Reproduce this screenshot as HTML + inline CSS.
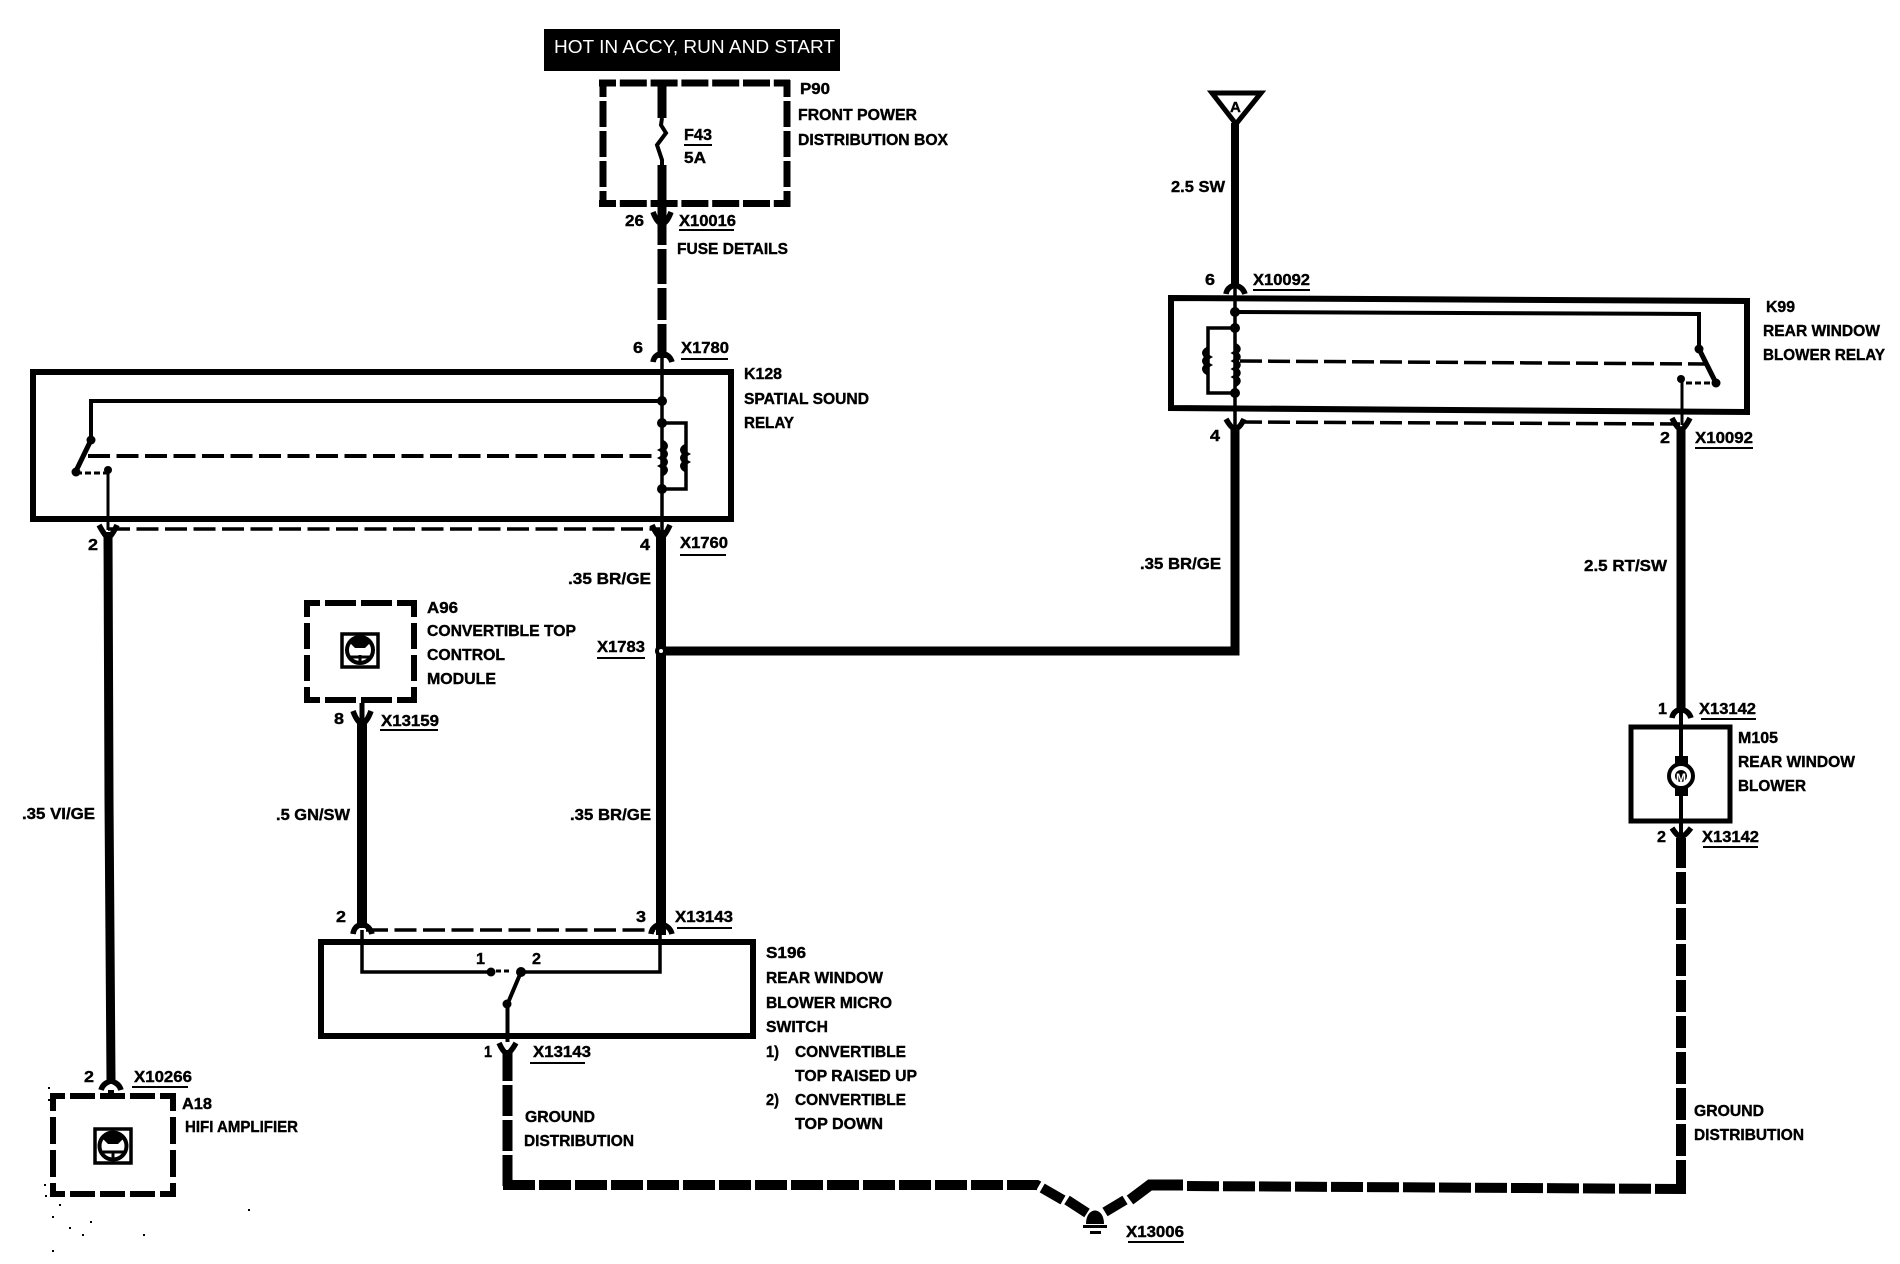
<!DOCTYPE html>
<html><head><meta charset="utf-8"><title>Wiring diagram</title>
<style>html,body{margin:0;padding:0;background:#fff}svg{display:block}
text{font-family:"Liberation Sans",sans-serif;font-weight:bold;font-size:16px;fill:#000;stroke:#000;stroke-width:.4}</style></head>
<body>
<svg xmlns="http://www.w3.org/2000/svg" width="1900" height="1264" viewBox="0 0 1900 1264">
<rect width="1900" height="1264" fill="#fff"/>
<g fill="none" stroke="#000" stroke-linejoin="miter">
<!-- P90 dashed box -->
<g stroke-width="7">
<path d="M599 83H790" stroke-dasharray="27 3.8" stroke-dashoffset="10"/>
<path d="M599 203.500H790" stroke-dasharray="27 3.8" stroke-dashoffset="10"/>
<path d="M603 80V207" stroke-dasharray="26 4" stroke-dashoffset="9"/>
<path d="M787 80V207" stroke-dasharray="26 4" stroke-dashoffset="9"/>
</g>
<!-- A96 dashed box -->
<g stroke-width="6">
<path d="M304 603H417" stroke-dasharray="31 5" stroke-dashoffset="15"/>
<path d="M304 700H417" stroke-dasharray="31 5" stroke-dashoffset="15"/>
<path d="M307 600V703" stroke-dasharray="26 6" stroke-dashoffset="9"/>
<path d="M414 600V703" stroke-dasharray="26 6" stroke-dashoffset="9"/>
</g>
<!-- A18 dashed box -->
<g stroke-width="6">
<path d="M51 1096H176" stroke-dasharray="25 5" stroke-dashoffset="11"/>
<path d="M51 1194H176" stroke-dasharray="25 5" stroke-dashoffset="11"/>
<path d="M53 1093V1197" stroke-dasharray="27 6" stroke-dashoffset="9"/>
<path d="M173 1093V1197" stroke-dasharray="27 6" stroke-dashoffset="9"/>
</g>
<!-- solid boxes -->
<rect x="33" y="372" width="698" height="147" stroke-width="6"/>
<path d="M1171 298L1747 301V412L1171 408Z" stroke-width="6"/>
<rect x="321" y="942" width="432" height="94" stroke-width="6"/>
<rect x="1631" y="727" width="99" height="94" stroke-width="5"/>

<!-- fuse wire -->
<path d="M662 80V118M662 165V213" stroke-width="9"/>
<path d="M662 118L661 125L666 133L657 145L662 160V166" stroke-width="4"/>
<path d="M662 213V245M662 249V284M662 288V320M662 324V358" stroke-width="9"/>
<!-- k128 internals -->
<path d="M662 358V530" stroke-width="3.500"/>
<path d="M662 401H91V440" stroke-width="4"/>
<path d="M91 440L76 471" stroke-width="5"/>
<path d="M108 470V530" stroke-width="3"/>
<path d="M76 473H107" stroke-width="3" stroke-dasharray="6 3"/>
<path d="M88 456H655" stroke-width="4" stroke-dasharray="22 6.500"/>
<path d="M108 529H660" stroke-width="3.500" stroke-dasharray="22 6.500"/>
<path d="M662 423H686V489H662" stroke-width="3.500"/>
<path d="M662 442q7 4 0 8q7 4 0 8q7 4 0 8q7 4 0 8" stroke-width="5"/>
<path d="M686 446q-7 4 0 8q-7 4 0 8q-7 4 0 8" stroke-width="5"/>
<!-- wires -->
<path d="M108 532L109 800L111 1080" stroke-width="9"/>
<path d="M661 530V935" stroke-width="10"/>
<path d="M661 651H1235V425" stroke-width="9"/>
<path d="M1235 123V288" stroke-width="8"/>
<path d="M1212 93H1261L1236 124Z" stroke-width="5"/>
<!-- k99 internals -->
<path d="M1235 288V425" stroke-width="3.500"/>
<path d="M1235 312L1699 314V349" stroke-width="4"/>
<path d="M1699 349L1716 383" stroke-width="5"/>
<path d="M1682 378V425" stroke-width="3"/>
<path d="M1686 383H1716" stroke-width="3" stroke-dasharray="6 3"/>
<path d="M1240 361L1706 364" stroke-width="3.500" stroke-dasharray="22 6"/>
<path d="M1240 422L1680 424" stroke-width="3.500" stroke-dasharray="22 6"/>
<path d="M1235 328H1208V393H1235" stroke-width="3.500"/>
<path d="M1235 345q7 4 0 8q7 4 0 8q7 4 0 8q7 4 0 8q7 4 0 8" stroke-width="4.500"/>
<path d="M1208 349q-7 4 0 8q-7 4 0 8q-7 4 0 8" stroke-width="5"/>
<path d="M1681 428V713" stroke-width="9"/>
<!-- M105 -->
<path d="M1681 713V757M1681 795V835" stroke-width="4"/>
<rect x="1675" y="756" width="13" height="40" fill="#000" stroke="none"/>
<circle cx="1681" cy="776" r="12" fill="#fff" stroke-width="4"/>
<!-- ground run -->
<path d="M1681 1192V838" stroke-width="10" stroke-dasharray="32 4"/>
<path d="M507.500 1050V1190" stroke-width="10" stroke-dasharray="31 4"/>
<path d="M503 1185H1037L1063 1200" stroke-width="10" stroke-dasharray="32 4"/>
<path d="M1067 1200L1087 1213" stroke-width="10"/>
<path d="M1105 1212L1125 1200" stroke-width="10"/>
<path d="M1130 1200L1150 1185H1183" stroke-width="11"/>
<path d="M1187 1186L1686 1189" stroke-width="10" stroke-dasharray="32 4"/>
<!-- A96 / S196 -->
<path d="M362 718V928" stroke-width="10"/>
<path d="M362 703V722" stroke-width="5"/>
<path d="M366 930H655" stroke-width="3.500" stroke-dasharray="22 6.500"/>
<path d="M362 930V972H488M524 972H660V930" stroke-width="3.500"/>
<path d="M521 972L507.500 1004V1042" stroke-width="4"/>
<path d="M496 971H510" stroke-width="3" stroke-dasharray="5 3"/>
<!-- connectors -->
<g stroke-width="5.500">
<path d="M653 212Q657 223 662 224Q667 223 671 212"/>
<path d="M653 362Q654 355 662 353Q670 355 672 362"/>
<path d="M99 525Q105 536 108 538Q112 536 117 525"/>
<path d="M652 525Q657 536 661 538Q665 536 670 525"/>
<path d="M353 711Q357 722 362 724Q367 722 371 711"/>
<path d="M353 934Q354 926 362 924Q370 926 372 934"/>
<path d="M651 934Q652 926 661 924Q670 926 672 934"/>
<path d="M101 1090Q103 1083 111 1081Q119 1083 121 1090"/>
<path d="M1226 294Q1227 287 1235 285Q1243 287 1245 294"/>
<path d="M1226 419Q1231 428 1235 429Q1240 428 1244 419"/>
<path d="M1672 418Q1677 428 1681 430Q1685 428 1690 418"/>
<path d="M1672 718Q1673 711 1681 709Q1689 711 1691 718"/>
<path d="M1672 828Q1677 836 1681 837Q1685 836 1691 828"/>
<path d="M499 1043Q503 1052 507 1054Q511 1052 516 1043"/>
</g>
<path d="M111 1090V1094" stroke-width="6"/>
<!-- underlines -->
<g stroke-width="2">
<path d="M684 145H712"/><path d="M679 230H734"/><path d="M681 359H728"/><path d="M680 555H726"/>
<path d="M597 658H645"/><path d="M380 730H438"/><path d="M1253 290H1310"/><path d="M1695 448H1753"/>
<path d="M1701 719H1756"/><path d="M1703 847H1758"/><path d="M677 928H732"/><path d="M530 1063H585"/>
<path d="M132 1087H188"/><path d="M1128 1242H1184"/>
</g>
<!-- icons -->
<g stroke-width="3.500">
<rect x="342" y="634" width="36" height="33"/>
<circle cx="360" cy="650" r="13" stroke-width="4"/>
<path d="M360 655V664M349 657H371" stroke-width="3"/>
<rect x="95" y="1129" width="36" height="34"/>
<circle cx="113" cy="1146" r="13.500" stroke-width="4"/>
<path d="M113 1151V1161M102 1152H124" stroke-width="3"/>
</g>
</g>
<!-- filled bits -->
<g fill="#000">
<rect x="544" y="29" width="296" height="42"/>
<circle cx="662" cy="401" r="5"/><circle cx="662" cy="423" r="5"/><circle cx="662" cy="489" r="5"/>
<circle cx="91" cy="440" r="4.500"/><circle cx="76" cy="472" r="4.500"/><circle cx="108" cy="470" r="4"/>
<circle cx="1235" cy="312" r="5"/><circle cx="1235" cy="328" r="5"/><circle cx="1235" cy="393" r="5"/>
<circle cx="1699" cy="349" r="4.500"/><circle cx="1716" cy="383" r="4.500"/><circle cx="1681" cy="379" r="4"/>
<circle cx="491" cy="972" r="4.500"/><circle cx="521" cy="972" r="5"/><circle cx="507" cy="1004" r="4.500"/>
<path d="M1086 1224C1086 1206 1104 1206 1104 1224Z"/>
<rect x="1083" y="1225" width="24" height="3"/><rect x="1090" y="1231" width="11" height="3"/>
<path d="M353 638h14l3 5-5 5h-10l-5-5z"/><path d="M106 1134h14l3 5-5 5h-10l-5-5z"/>
<circle cx="1681" cy="776" r="6"/>
<rect x="48" y="1087" width="2" height="2"/><rect x="48" y="1099" width="2" height="2"/><rect x="44" y="1184" width="2" height="2"/><rect x="45" y="1195" width="2" height="2"/><rect x="59" y="1204" width="2" height="2"/><rect x="52" y="1216" width="2" height="2"/><rect x="69" y="1227" width="2" height="2"/><rect x="90" y="1221" width="2" height="2"/><rect x="82" y="1234" width="2" height="2"/><rect x="52" y="1250" width="2" height="2"/><rect x="143" y="1234" width="2" height="2"/><rect x="248" y="1209" width="2" height="2"/>
</g>
<circle cx="661" cy="651" r="6" fill="#000"/><circle cx="661" cy="651" r="2" fill="#fff"/>
<!-- labels -->
<text x="554" y="53" textLength="281" lengthAdjust="spacingAndGlyphs" style="fill:#fff;stroke:none;font-weight:normal;font-size:18px">HOT IN ACCY, RUN AND START</text>
<text x="800" y="94" textLength="30" lengthAdjust="spacingAndGlyphs">P90</text>
<text x="798" y="120" textLength="119" lengthAdjust="spacingAndGlyphs">FRONT POWER</text>
<text x="798" y="145" textLength="150" lengthAdjust="spacingAndGlyphs">DISTRIBUTION BOX</text>
<text x="684" y="140" textLength="28" lengthAdjust="spacingAndGlyphs">F43</text>
<text x="684" y="163" textLength="22" lengthAdjust="spacingAndGlyphs">5A</text>
<text x="625" y="226" textLength="19" lengthAdjust="spacingAndGlyphs">26</text>
<text x="679" y="226" textLength="57" lengthAdjust="spacingAndGlyphs">X10016</text>
<text x="677" y="254" textLength="111" lengthAdjust="spacingAndGlyphs">FUSE DETAILS</text>
<text x="633" y="353" textLength="10" lengthAdjust="spacingAndGlyphs">6</text>
<text x="681" y="353" textLength="48" lengthAdjust="spacingAndGlyphs">X1780</text>
<text x="744" y="379" textLength="38" lengthAdjust="spacingAndGlyphs">K128</text>
<text x="744" y="404" textLength="125" lengthAdjust="spacingAndGlyphs">SPATIAL SOUND</text>
<text x="744" y="428" textLength="50" lengthAdjust="spacingAndGlyphs">RELAY</text>
<text x="88" y="550" textLength="10" lengthAdjust="spacingAndGlyphs">2</text>
<text x="640" y="550" textLength="10" lengthAdjust="spacingAndGlyphs">4</text>
<text x="680" y="548" textLength="48" lengthAdjust="spacingAndGlyphs">X1760</text>
<text x="568" y="584" textLength="83" lengthAdjust="spacingAndGlyphs">.35  BR/GE</text>
<text x="427" y="613" textLength="31" lengthAdjust="spacingAndGlyphs">A96</text>
<text x="427" y="636" textLength="149" lengthAdjust="spacingAndGlyphs">CONVERTIBLE TOP</text>
<text x="427" y="660" textLength="78" lengthAdjust="spacingAndGlyphs">CONTROL</text>
<text x="427" y="684" textLength="69" lengthAdjust="spacingAndGlyphs">MODULE</text>
<text x="597" y="652" textLength="48" lengthAdjust="spacingAndGlyphs">X1783</text>
<text x="334" y="724" textLength="10" lengthAdjust="spacingAndGlyphs">8</text>
<text x="381" y="726" textLength="58" lengthAdjust="spacingAndGlyphs">X13159</text>
<text x="22" y="819" textLength="73" lengthAdjust="spacingAndGlyphs">.35 VI/GE</text>
<text x="276" y="820" textLength="74" lengthAdjust="spacingAndGlyphs">.5 GN/SW</text>
<text x="570" y="820" textLength="81" lengthAdjust="spacingAndGlyphs">.35  BR/GE</text>
<text x="336" y="922" textLength="10" lengthAdjust="spacingAndGlyphs">2</text>
<text x="636" y="922" textLength="10" lengthAdjust="spacingAndGlyphs">3</text>
<text x="675" y="922" textLength="58" lengthAdjust="spacingAndGlyphs">X13143</text>
<text x="476" y="964" textLength="9" lengthAdjust="spacingAndGlyphs">1</text>
<text x="532" y="964" textLength="9" lengthAdjust="spacingAndGlyphs">2</text>
<text x="766" y="958" textLength="40" lengthAdjust="spacingAndGlyphs">S196</text>
<text x="766" y="983" textLength="117" lengthAdjust="spacingAndGlyphs">REAR WINDOW</text>
<text x="766" y="1008" textLength="126" lengthAdjust="spacingAndGlyphs">BLOWER MICRO</text>
<text x="766" y="1032" textLength="62" lengthAdjust="spacingAndGlyphs">SWITCH</text>
<text x="766" y="1057" textLength="13" lengthAdjust="spacingAndGlyphs">1)</text>
<text x="795" y="1057" textLength="111" lengthAdjust="spacingAndGlyphs">CONVERTIBLE</text>
<text x="795" y="1081" textLength="122" lengthAdjust="spacingAndGlyphs">TOP RAISED UP</text>
<text x="766" y="1105" textLength="13" lengthAdjust="spacingAndGlyphs">2)</text>
<text x="795" y="1105" textLength="111" lengthAdjust="spacingAndGlyphs">CONVERTIBLE</text>
<text x="795" y="1129" textLength="88" lengthAdjust="spacingAndGlyphs">TOP DOWN</text>
<text x="484" y="1057" textLength="8" lengthAdjust="spacingAndGlyphs">1</text>
<text x="533" y="1057" textLength="58" lengthAdjust="spacingAndGlyphs">X13143</text>
<text x="525" y="1122" textLength="70" lengthAdjust="spacingAndGlyphs">GROUND</text>
<text x="524" y="1146" textLength="110" lengthAdjust="spacingAndGlyphs">DISTRIBUTION</text>
<text x="84" y="1082" textLength="10" lengthAdjust="spacingAndGlyphs">2</text>
<text x="134" y="1082" textLength="58" lengthAdjust="spacingAndGlyphs">X10266</text>
<text x="182" y="1109" textLength="30" lengthAdjust="spacingAndGlyphs">A18</text>
<text x="185" y="1132" textLength="113" lengthAdjust="spacingAndGlyphs">HIFI AMPLIFIER</text>
<text x="1126" y="1237" textLength="58" lengthAdjust="spacingAndGlyphs">X13006</text>
<text x="1230" y="112" style="font-size:15px">A</text>
<text x="1171" y="192" textLength="54" lengthAdjust="spacingAndGlyphs">2.5 SW</text>
<text x="1205" y="285" textLength="10" lengthAdjust="spacingAndGlyphs">6</text>
<text x="1253" y="285" textLength="57" lengthAdjust="spacingAndGlyphs">X10092</text>
<text x="1766" y="312" textLength="29" lengthAdjust="spacingAndGlyphs">K99</text>
<text x="1763" y="336" textLength="117" lengthAdjust="spacingAndGlyphs">REAR WINDOW</text>
<text x="1763" y="360" textLength="122" lengthAdjust="spacingAndGlyphs">BLOWER RELAY</text>
<text x="1210" y="441" textLength="10" lengthAdjust="spacingAndGlyphs">4</text>
<text x="1660" y="443" textLength="10" lengthAdjust="spacingAndGlyphs">2</text>
<text x="1695" y="443" textLength="58" lengthAdjust="spacingAndGlyphs">X10092</text>
<text x="1140" y="569" textLength="81" lengthAdjust="spacingAndGlyphs">.35 BR/GE</text>
<text x="1584" y="571" textLength="83" lengthAdjust="spacingAndGlyphs">2.5 RT/SW</text>
<text x="1658" y="714" textLength="9" lengthAdjust="spacingAndGlyphs">1</text>
<text x="1699" y="714" textLength="57" lengthAdjust="spacingAndGlyphs">X13142</text>
<text x="1738" y="743" textLength="40" lengthAdjust="spacingAndGlyphs">M105</text>
<text x="1738" y="767" textLength="117" lengthAdjust="spacingAndGlyphs">REAR WINDOW</text>
<text x="1738" y="791" textLength="68" lengthAdjust="spacingAndGlyphs">BLOWER</text>
<text x="1657" y="842" textLength="9" lengthAdjust="spacingAndGlyphs">2</text>
<text x="1702" y="842" textLength="57" lengthAdjust="spacingAndGlyphs">X13142</text>
<text x="1694" y="1116" textLength="70" lengthAdjust="spacingAndGlyphs">GROUND</text>
<text x="1694" y="1140" textLength="110" lengthAdjust="spacingAndGlyphs">DISTRIBUTION</text>
<text x="1676" y="782" style="font-size:12px;fill:#fff;stroke:none">M</text>
</svg>
</body></html>
